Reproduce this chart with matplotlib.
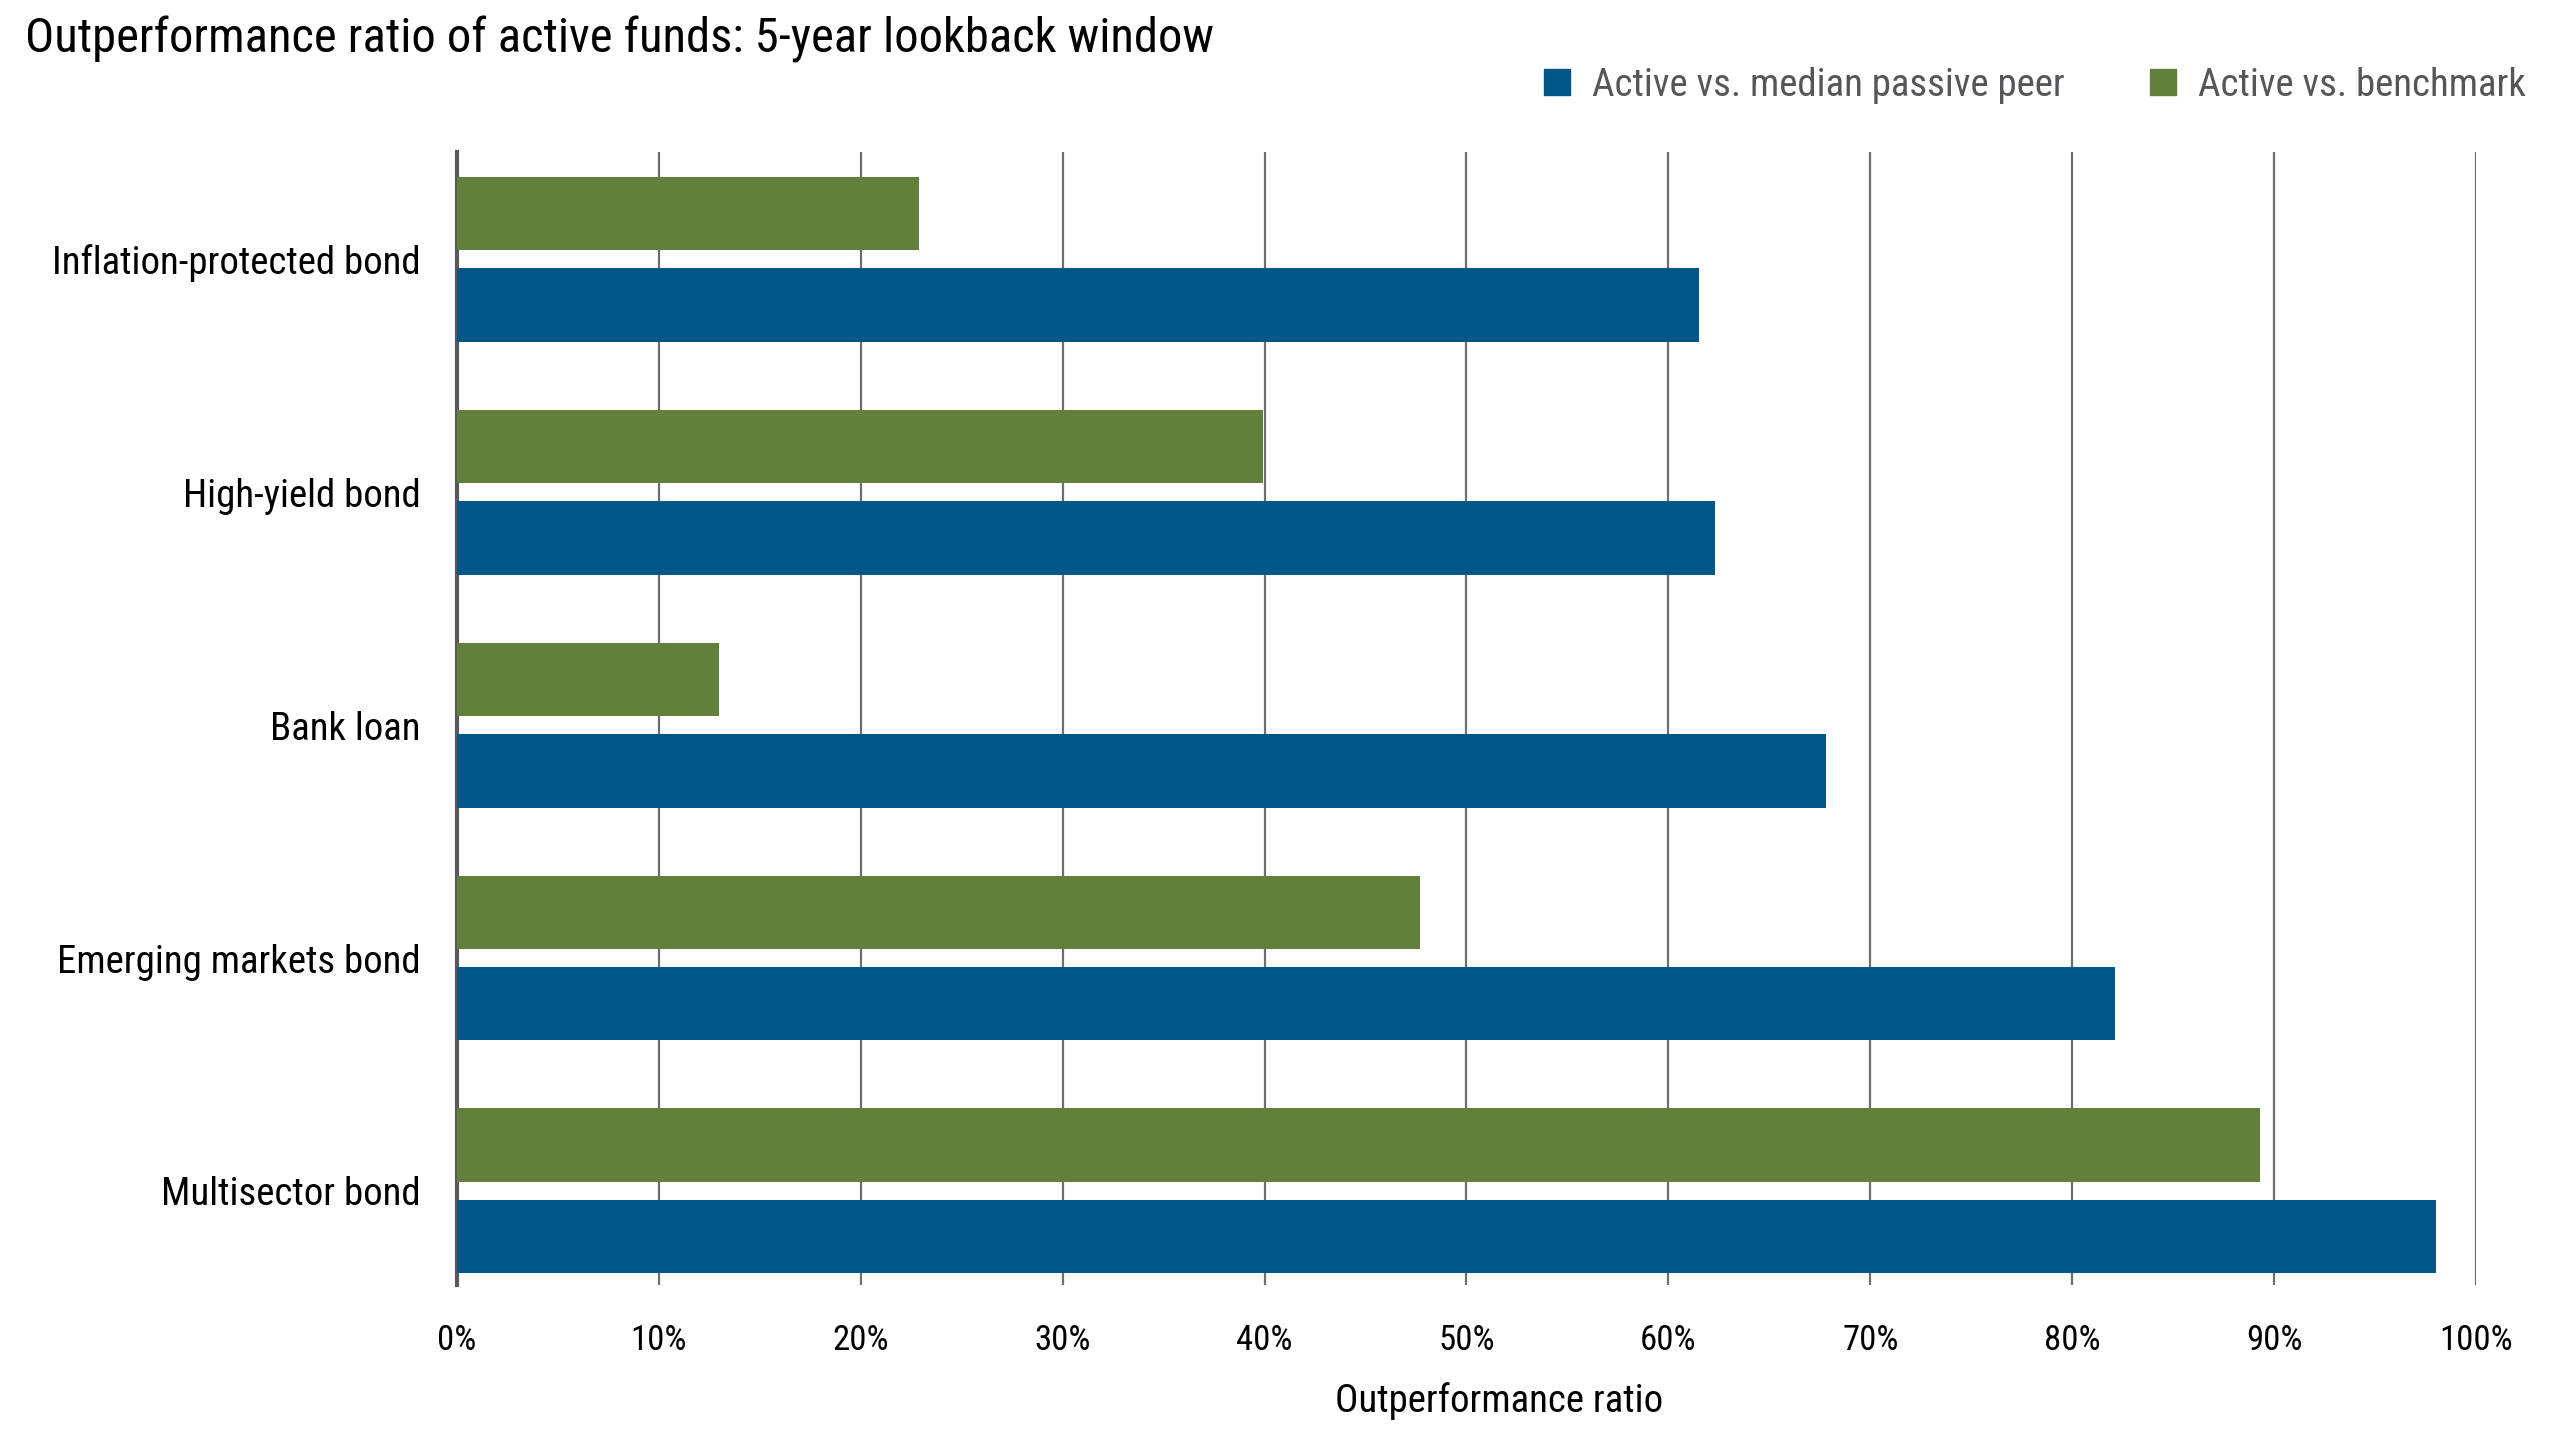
import numpy as np
import matplotlib
matplotlib.use("Agg")
import matplotlib.pyplot as plt
from matplotlib.lines import Line2D

plt.rcParams['font.family'] = ['Roboto Condensed', 'Liberation Sans Narrow', 'Roboto', 'DejaVu Sans']

# data
categories = ['Inflation-protected bond', 'High-yield bond', 'Bank loan',
              'Emerging markets bond', 'Multisector bond']
vs_passive_peer = [61.5, 62.3, 67.8, 82.1, 98.0]
vs_benchmark = [22.9, 39.9, 13.0, 47.7, 89.3]
series_names = ['Active vs. median passive peer', 'Active vs. benchmark']
xticks = np.arange(0, 101, 10)

blue = '#005685'
green = '#62803c'
grid_col = '#6d6e71'

fig = plt.figure(figsize=(25.6, 14.4), dpi=100)
ax = fig.add_axes([0.1785, 0.1076, 0.7887, 0.7868])

y = np.arange(len(categories))
h = 0.316
off = 0.196
ax.barh(y - off, vs_benchmark, height=h, color=green, zorder=3)
ax.barh(y + off, vs_passive_peer, height=h, color=blue, zorder=3)

ax.set_xlim(0, 100)
ax.set_ylim(len(categories) - 1 + 0.404, -0.46)

ax.set_xticks(xticks)
ax.set_xticklabels([f'{v}%' for v in xticks], fontsize=25)
ax.set_yticks(y)
ax.set_yticklabels(categories, fontsize=28)
ax.tick_params(axis='x', length=0, pad=28)
ax.tick_params(axis='y', length=0, pad=26)

for v in xticks[1:]:
    ax.axvline(v, color=grid_col, lw=1.6, zorder=1)
for s in ['top', 'right', 'bottom']:
    ax.spines[s].set_visible(False)
ax.spines['left'].set_color('#58595b')
ax.spines['left'].set_linewidth(3)

ax.set_xlabel('Outperformance ratio', fontsize=28)
ax.xaxis.set_label_coords(0.516, -0.0856)

fig.text(0.0098, 1 - 39 / 1440, 'Outperformance ratio of active funds: 5-year lookback window',
         fontsize=35, va='center', ha='left')

handles = [Line2D([], [], marker='s', ls='', color=blue, markersize=19),
           Line2D([], [], marker='s', ls='', color=green, markersize=19)]
leg = fig.legend(handles, series_names, loc='center right', bbox_to_anchor=(0.9866, 1 - 85 / 1440),
                 ncol=2, frameon=False, fontsize=28, handletextpad=0.5, columnspacing=2.12,
                 handlelength=0.8, borderpad=0, borderaxespad=0)
for t in leg.get_texts():
    t.set_color('#54565a')

fig.savefig('out.png', dpi=100)
